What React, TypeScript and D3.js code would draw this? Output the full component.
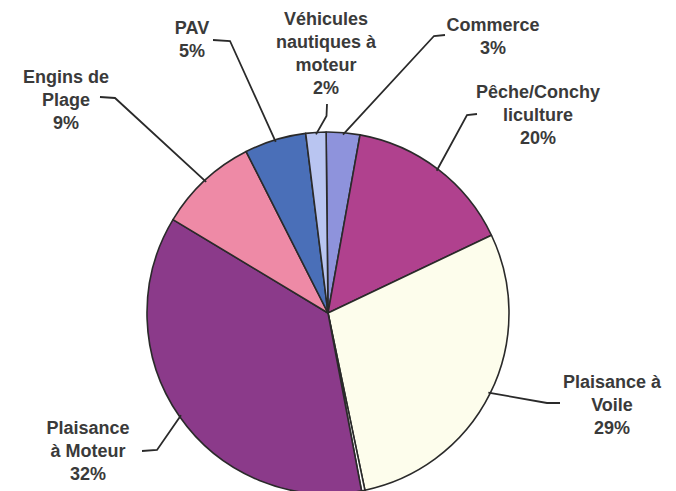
import React from "react";
import * as d3 from "d3";

// Slice shares as drawn, order clockwise from 12 o'clock
const categories = [
  "Commerce",
  "Pêche/Conchyliculture",
  "Plaisance à Voile",
  "Autre",
  "Plaisance à Moteur",
  "Engins de Plage",
  "PAV",
  "Véhicules nautiques à moteur",
];
const values = [3.0, 15.1, 28.8, 0.3, 36.6, 8.9, 5.5, 1.8];
const colors = ["#8e93dc", "#b0418e", "#fdfdec", "#ffffff", "#8b3a8a", "#ee8aa6", "#4a6fb8", "#b9c5f1"];

// Label texts as printed
const labelLines = [
  ["Commerce", "3%"],
  ["Pêche/Conchy", "liculture", "20%"],
  ["Plaisance à", "Voile", "29%"],
  [],
  ["Plaisance", "à Moteur", "32%"],
  ["Engins de", "Plage", "9%"],
  ["PAV", "5%"],
  ["Véhicules", "nautiques à", "moteur", "2%"],
];
// label anchor (center x, first line center y)
const labelPos: [number, number][] = [
  [493, 25],
  [538, 92],
  [612, 382],
  [0, 0],
  [88, 428],
  [66, 77],
  [192, 28],
  [326, 19],
];
// leader lines: elbow point and end point (horizontal/vertical tail)
const leaderElbow: [number, number][] = [
  [434, 36],
  [467, 115],
  [547, 403],
  [0, 0],
  [157, 450],
  [115, 98],
  [230, 41],
  [326.5, 116],
];
const leaderEnd: [number, number][] = [
  [445, 35],
  [477, 114],
  [560, 403],
  [0, 0],
  [142, 451],
  [100, 97],
  [213, 40],
  [327, 104],
];

const cx = 328;
const cy = 313;
const R = 181;
const startDeg = -0.6;

export default function App() {
  const pie = d3
    .pie<number>()
    .sort(null)
    .value((d) => d)
    .startAngle((startDeg * Math.PI) / 180)
    .endAngle(((startDeg + 360) * Math.PI) / 180);
  const arcs = pie(values);
  const arc = d3.arc<d3.PieArcDatum<number>>().innerRadius(0).outerRadius(R);
  const lineH = 23;

  return (
    <svg width={676} height={491} style={{ position: "absolute", left: 0, top: 0, background: "#fff" }}>
      <rect width={676} height={491} fill="#fff" />
      <g transform={`translate(${cx},${cy})`}>
        {arcs.map((a, i) => (
          <path key={i} d={arc(a) || ""} fill={colors[i]} stroke="#2a2a2a" strokeWidth={1.6} strokeLinejoin="round" />
        ))}
      </g>
      {arcs.map((a, i) => {
        if (labelLines[i].length === 0) return null;
        const mid = (a.startAngle + a.endAngle) / 2;
        const px = cx + Math.sin(mid) * (R - 2);
        const py = cy - Math.cos(mid) * (R - 2);
        const [ex, ey] = leaderElbow[i];
        const [tx, ty] = leaderEnd[i];
        return (
          <polyline
            key={"l" + i}
            points={`${px},${py} ${ex},${ey} ${tx},${ty}`}
            fill="none"
            stroke="#2a2a2a"
            strokeWidth={1.8}
          />
        );
      })}
      {labelLines.map((lines, i) =>
        lines.length === 0 ? null : (
          <text
            key={"t" + i}
            textAnchor="middle"
            fontFamily="'Liberation Sans', Arial, sans-serif"
            fontWeight="bold"
            fontSize={18}
            fill="#3a3a3a"
          >
            {lines.map((ln, j) => (
              <tspan key={j} x={labelPos[i][0]} y={labelPos[i][1] + j * lineH + 6}>
                {ln}
              </tspan>
            ))}
          </text>
        )
      )}
    </svg>
  );
}
